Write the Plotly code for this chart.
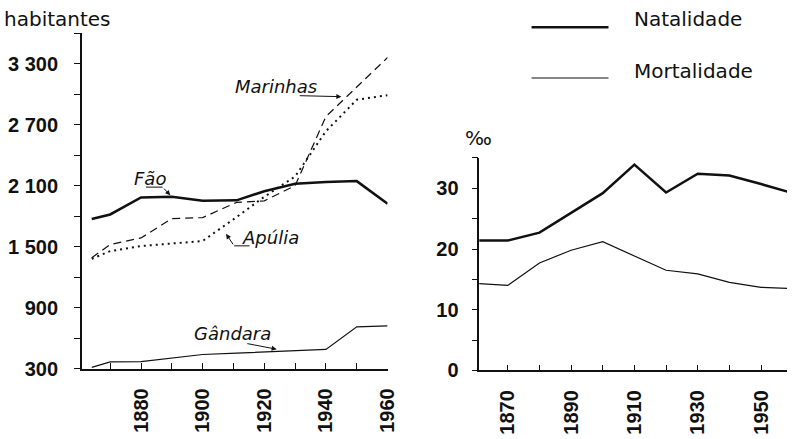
import plotly.graph_objects as go

# ---- data ----
years_pop = [1864, 1870, 1880, 1890, 1900, 1911, 1920, 1930, 1940, 1950, 1960]
fao = [1771, 1816, 1984, 1991, 1950, 1955, 2045, 2118, 2135, 2144, 1921]
marinhas = [1390, 1520, 1585, 1775, 1785, 1935, 1950, 2100, 2780, 3070, 3360]
apulia = [1380, 1455, 1505, 1530, 1555, 1790, 1990, 2190, 2635, 2945, 2990]
gandara = [312, 365, 367, 405, 438, 452, 465, 478, 488, 710, 720]

years_rate = [1860, 1870, 1880, 1890, 1900, 1910, 1920, 1930, 1940, 1950, 1960]
natalidade = [21.4, 21.4, 22.7, 26.0, 29.2, 33.9, 29.3, 32.4, 32.1, 30.7, 29.2]
mortalidade = [14.35, 14.0, 17.7, 19.8, 21.2, 18.8, 16.5, 15.9, 14.5, 13.7, 13.5]

left_major_x = [1880, 1900, 1920, 1940, 1960]
left_minor_x = [1870, 1890, 1910, 1930, 1950]
left_major_y = [300, 900, 1500, 2100, 2700, 3300]
left_major_y_text = ["300", "900", "1 500", "2 100", "2 700", "3 300"]
left_minor_y = [600, 1200, 1800, 2400, 3000, 3600]

right_major_x = [1870, 1890, 1910, 1930, 1950]
right_minor_x = [1880, 1900, 1920, 1940]
right_major_y = [0, 10, 20, 30]
right_minor_y = [5, 15, 25, 35]

BLACK = "#111111"
TICKFONT = dict(family="Liberation Sans", size=20, color=BLACK, weight="bold")
LABELFONT = dict(family="DejaVu Sans", size=20, color=BLACK)
ITALFONT = dict(family="DejaVu Sans", size=18, color=BLACK, style="italic")

fig = go.Figure()

# left chart
fig.add_trace(go.Scatter(x=years_pop, y=fao, mode="lines", line=dict(color=BLACK, width=2.5), xaxis="x", yaxis="y"))
fig.add_trace(go.Scatter(x=years_pop, y=marinhas, mode="lines", line=dict(color=BLACK, width=1.2, dash="8px,5px"), xaxis="x", yaxis="y"))
fig.add_trace(go.Scatter(x=years_pop, y=apulia, mode="lines", line=dict(color=BLACK, width=2, dash="2px,4px"), xaxis="x", yaxis="y"))
fig.add_trace(go.Scatter(x=years_pop, y=gandara, mode="lines", line=dict(color=BLACK, width=1.2), xaxis="x", yaxis="y"))

# right chart
fig.add_trace(go.Scatter(x=years_rate, y=natalidade, mode="lines", line=dict(color=BLACK, width=2.5), xaxis="x2", yaxis="y2"))
fig.add_trace(go.Scatter(x=years_rate, y=mortalidade, mode="lines", line=dict(color=BLACK, width=1.2), xaxis="x2", yaxis="y2"))

axis_common = dict(showgrid=False, zeroline=False, showline=True, linecolor=BLACK, linewidth=1.5,
                   tickcolor=BLACK, tickwidth=1.3, tickfont=TICKFONT)

fig.update_layout(
    width=798, height=439,
    margin=dict(l=0, r=0, t=0, b=0),
    paper_bgcolor="white", plot_bgcolor="white",
    showlegend=False,
    xaxis=dict(domain=[83/798, 393/798], range=[1860.8, 1960], anchor="y",
               tickmode="array", tickvals=left_major_x, ticks="inside", ticklen=6,
               tickangle=-90, ticklabelstandoff=10,
               minor=dict(tickvals=left_minor_x, ticks="inside", ticklen=6, tickcolor=BLACK, tickwidth=1.3),
               **axis_common),
    yaxis=dict(domain=[(439-378)/439, (439-34)/439], range=[300, 3600], anchor="x",
               tickmode="array", tickvals=left_major_y, ticktext=left_major_y_text,
               ticks="outside", ticklen=6, ticklabelstandoff=12,
               minor=dict(tickvals=left_minor_y, ticks="outside", ticklen=6, tickcolor=BLACK, tickwidth=1.3),
               **axis_common),
    xaxis2=dict(domain=[486/798, 1.0], range=[1861, 1958.2], anchor="y2",
                tickmode="array", tickvals=right_major_x, ticks="inside", ticklen=6,
                tickangle=-90, ticklabelstandoff=10,
                minor=dict(tickvals=right_minor_x, ticks="inside", ticklen=6, tickcolor=BLACK, tickwidth=1.3),
                **axis_common),
    yaxis2=dict(domain=[(439-380)/439, (439-162)/439], range=[0, 35], anchor="x2",
                tickmode="array", tickvals=right_major_y,
                ticks="outside", ticklen=6, ticklabelstandoff=9,
                minor=dict(tickvals=right_minor_y, ticks="outside", ticklen=6, tickcolor=BLACK, tickwidth=1.3),
                **axis_common),
)

annotations = [
    dict(text="habitantes", xref="paper", yref="paper", x=2/798, y=1-19/439, xanchor="left", yanchor="middle",
         showarrow=False, font=LABELFONT),
    dict(text="‰", xref="paper", yref="paper", x=485/798, y=1-142/439, xanchor="center", yanchor="middle",
         showarrow=False, font=dict(family="DejaVu Sans", size=20, color=BLACK)),
    dict(text="Natalidade", xref="paper", yref="paper", x=641/798, y=1-20/439, xanchor="left", yanchor="middle",
         showarrow=False, font=LABELFONT),
    dict(text="Mortalidade", xref="paper", yref="paper", x=641/798, y=1-73/439, xanchor="left", yanchor="middle",
         showarrow=False, font=LABELFONT),
    # series labels
    dict(text="Fão", xref="x", yref="y", x=1882.9, y=2172, showarrow=False, font=ITALFONT),
    dict(text="Marinhas", xref="x", yref="y", x=1923.8, y=3071, showarrow=False, font=ITALFONT),
    dict(text="Apúlia", xref="x", yref="y", x=1921.9, y=1590, showarrow=False, font=ITALFONT),
    dict(text="Gândara", xref="x", yref="y", x=1909.8, y=644, showarrow=False, font=ITALFONT),
    # arrows
    dict(text="", xref="x", yref="y", axref="x", ayref="y", x=1889.5, y=2005, ax=1887, ay=2085,
         showarrow=True, arrowhead=2, arrowsize=1, arrowwidth=1, arrowcolor=BLACK),
    dict(text="", xref="x", yref="y", axref="x", ayref="y", x=1945, y=2975, ax=1931, ay=2985,
         showarrow=True, arrowhead=2, arrowsize=1, arrowwidth=1, arrowcolor=BLACK),
    dict(text="", xref="x", yref="y", axref="x", ayref="y", x=1907.6, y=1625, ax=1910.2, ay=1507,
         showarrow=True, arrowhead=2, arrowsize=1, arrowwidth=1, arrowcolor=BLACK),
    dict(text="", xref="x", yref="y", axref="x", ayref="y", x=1924, y=490, ax=1914, ay=548,
         showarrow=True, arrowhead=2, arrowsize=1, arrowwidth=1, arrowcolor=BLACK),
]
fig.update_layout(annotations=annotations)

shapes = [
    # legend samples
    dict(type="line", xref="paper", yref="paper", x0=539/798, x1=617/798, y0=1-28/439, y1=1-28/439,
         line=dict(color=BLACK, width=2.5)),
    dict(type="line", xref="paper", yref="paper", x0=539/798, x1=617/798, y0=1-80/439, y1=1-80/439,
         line=dict(color=BLACK, width=1.2)),
    # arrow hooks
    dict(type="line", xref="x", yref="y", x0=1881.6, x1=1887, y0=2085, y1=2085, line=dict(color=BLACK, width=1)),
    dict(type="line", xref="x", yref="y", x0=1910.2, x1=1915.2, y0=1507, y1=1507, line=dict(color=BLACK, width=1)),
]
fig.update_layout(shapes=shapes)

fig.write_html("out.html")
